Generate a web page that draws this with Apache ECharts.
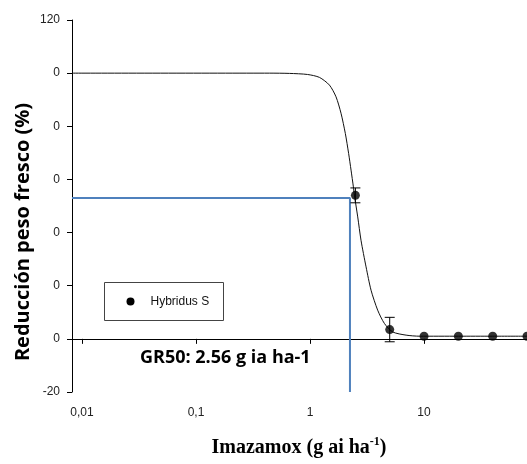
<!DOCTYPE html>
<html>
<head>
<meta charset="utf-8">
<script src="https://cdn.jsdelivr.net/npm/echarts@6/dist/echarts.min.js"></script>
<style>
  html, body { margin: 0; padding: 0; background: #fff; }
  #chart { width: 527px; height: 464px; }
</style>
</head>
<body>
<div id="chart"></div>
<script>
// Observed means (Imazamox dose, g ai/ha) with standard error
const obsDose = [2.5, 5, 10, 20, 40, 80];
const obsValue = [54, 3.5, 1, 1, 1, 1];
const obsErr = [2.8, 4.6, 0, 0, 0, 0];

// Fitted dose-response curve traced along the dose axis
const curveDose = [0.00817, 0.44, 0.66, 0.95, 1.21, 1.48, 1.69, 1.87, 2.04, 2.18, 2.29, 2.40, 2.45,
                   2.62, 2.80, 3.10, 3.43, 3.92, 4.49, 5.31, 6.96, 9.1, 20, 40, 80];
const curveValue = [100, 100, 99.9, 99.5, 98.4, 95.5, 91.1, 84.9, 77.3, 69.8, 63.5, 57.2, 54.1,
                    45.9, 37.1, 27.1, 18.3, 10.8, 5.8, 2.6, 1.4, 1.0, 1.0, 1.0, 1.0];

// GR50 guide (dose where 50 % reduction is reached)
const gr50Dose = 2.24;
const gr50Level = 53;

// Axis ticks
const xTickValues = [0.01, 0.1, 1, 10];
const xTickLabels = ['0,01', '0,1', '1', '10'];
const yTickValues = [-20, 0, 20, 40, 60, 80, 100, 120];
const yTickLabels = ['-20', '0', '0', '0', '0', '0', '0', '120'];

const xMin = 0.00817, xMax = 80;

const chart = echarts.init(document.getElementById('chart'), null, { renderer: 'canvas' });

const option = {
  animation: false,
  backgroundColor: '#ffffff',
  grid: { left: 72, top: 20, right: 0, bottom: 72, containLabel: false },
  xAxis: {
    type: 'log',
    logBase: 10,
    min: xMin,
    max: xMax,
    axisLine: { show: true, lineStyle: { color: '#000', width: 1 } },
    axisTick: { show: true, length: 5, inside: false, customValues: xTickValues, lineStyle: { color: '#000' } },
    axisLabel: {
      customValues: xTickValues,
      formatter: v => { const i = xTickValues.findIndex(t => Math.abs(t - v) / t < 1e-6); return i >= 0 ? xTickLabels[i] : ''; },
      color: '#222', fontFamily: 'Liberation Sans', fontSize: 12, margin: 15
    },
    splitLine: { show: false },
    minorTick: { show: false }
  },
  yAxis: {
    type: 'value',
    min: -20, max: 120, interval: 20,
    axisLine: { show: true, lineStyle: { color: '#000', width: 1 } },
    axisTick: { show: true, length: 5, inside: false, lineStyle: { color: '#000' } },
    axisLabel: {
      formatter: v => { const i = yTickValues.indexOf(v); return i >= 0 ? yTickLabels[i] : ''; },
      color: '#222', fontFamily: 'Liberation Sans', fontSize: 12, margin: 12
    },
    splitLine: { show: false }
  },
  series: [
    {
      name: 'GR50',
      type: 'line',
      data: [[xMin, gr50Level], [gr50Dose, gr50Level], [gr50Dose, -20]],
      symbol: 'none',
      lineStyle: { color: '#4F81BD', width: 2 },
      z: 2
    },
    {
      name: 'fit',
      type: 'line',
      data: curveDose.map((d, i) => [d, curveValue[i]]),
      symbol: 'none',
      smooth: 0.25,
      lineStyle: { color: '#111', width: 1 },
      z: 3
    },
    {
      name: 'err',
      type: 'custom',
      data: obsDose.map((d, i) => [d, obsValue[i] - obsErr[i], obsValue[i] + obsErr[i]]).filter((r, i) => obsErr[i] > 0),
      renderItem: (params, api) => {
        const lo = api.coord([api.value(0), api.value(1)]);
        const hi = api.coord([api.value(0), api.value(2)]);
        const cap = 5;
        const st = { stroke: '#000', lineWidth: 1 };
        return {
          type: 'group',
          children: [
            { type: 'line', shape: { x1: lo[0], y1: lo[1], x2: hi[0], y2: hi[1] }, style: st },
            { type: 'line', shape: { x1: lo[0] - cap, y1: lo[1], x2: lo[0] + cap, y2: lo[1] }, style: st },
            { type: 'line', shape: { x1: hi[0] - cap, y1: hi[1], x2: hi[0] + cap, y2: hi[1] }, style: st }
          ]
        };
      },
      z: 4
    },
    {
      name: 'Hybridus S',
      type: 'scatter',
      data: obsDose.map((d, i) => [d, obsValue[i]]),
      symbol: 'circle',
      symbolSize: 9,
      itemStyle: { color: '#000' },
      clip: false,
      z: 5
    }
  ],
  graphic: [
    {
      type: 'group', left: 104, top: 282,
      children: [
        { type: 'rect', shape: { x: 0, y: 0, width: 119, height: 38 }, style: { fill: '#fff', stroke: '#444', lineWidth: 1 } },
        { type: 'circle', shape: { cx: 26, cy: 19, r: 4 }, style: { fill: '#000' } },
        { type: 'text', x: 46, y: 19, style: { text: 'Hybridus S', fontFamily: 'Liberation Sans', fontSize: 12, fill: '#111', verticalAlign: 'middle' } }
      ]
    },
    {
      type: 'text', x: 140, y: 358,
      style: { text: 'GR50: 2.56 g ia ha-1', fontFamily: 'Open Sans', fontWeight: 'bold', fontSize: 18, fill: '#000', verticalAlign: 'middle' }
    },
    {
      type: 'text', x: 23, y: 232, rotation: Math.PI / 2,
      style: { text: 'Reducción peso fresco (%)', fontFamily: 'Open Sans', fontWeight: 'bold', fontSize: 20, fill: '#000', align: 'center', verticalAlign: 'middle' }
    },
    {
      type: 'text', x: 299, y: 447,
      style: {
        text: '{a|Imazamox (g ai ha}{s|-1}{a|)}',
        align: 'center', verticalAlign: 'middle',
        rich: {
          a: { fontFamily: 'Liberation Serif', fontWeight: 'bold', fontSize: 20, fill: '#000', verticalAlign: 'bottom' },
          s: { fontFamily: 'Liberation Serif', fontWeight: 'bold', fontSize: 12, fill: '#000', verticalAlign: 'top', padding: [0, 0, 10, 0] }
        }
      }
    }
  ]
};

chart.setOption(option);
</script>
</body>
</html>
